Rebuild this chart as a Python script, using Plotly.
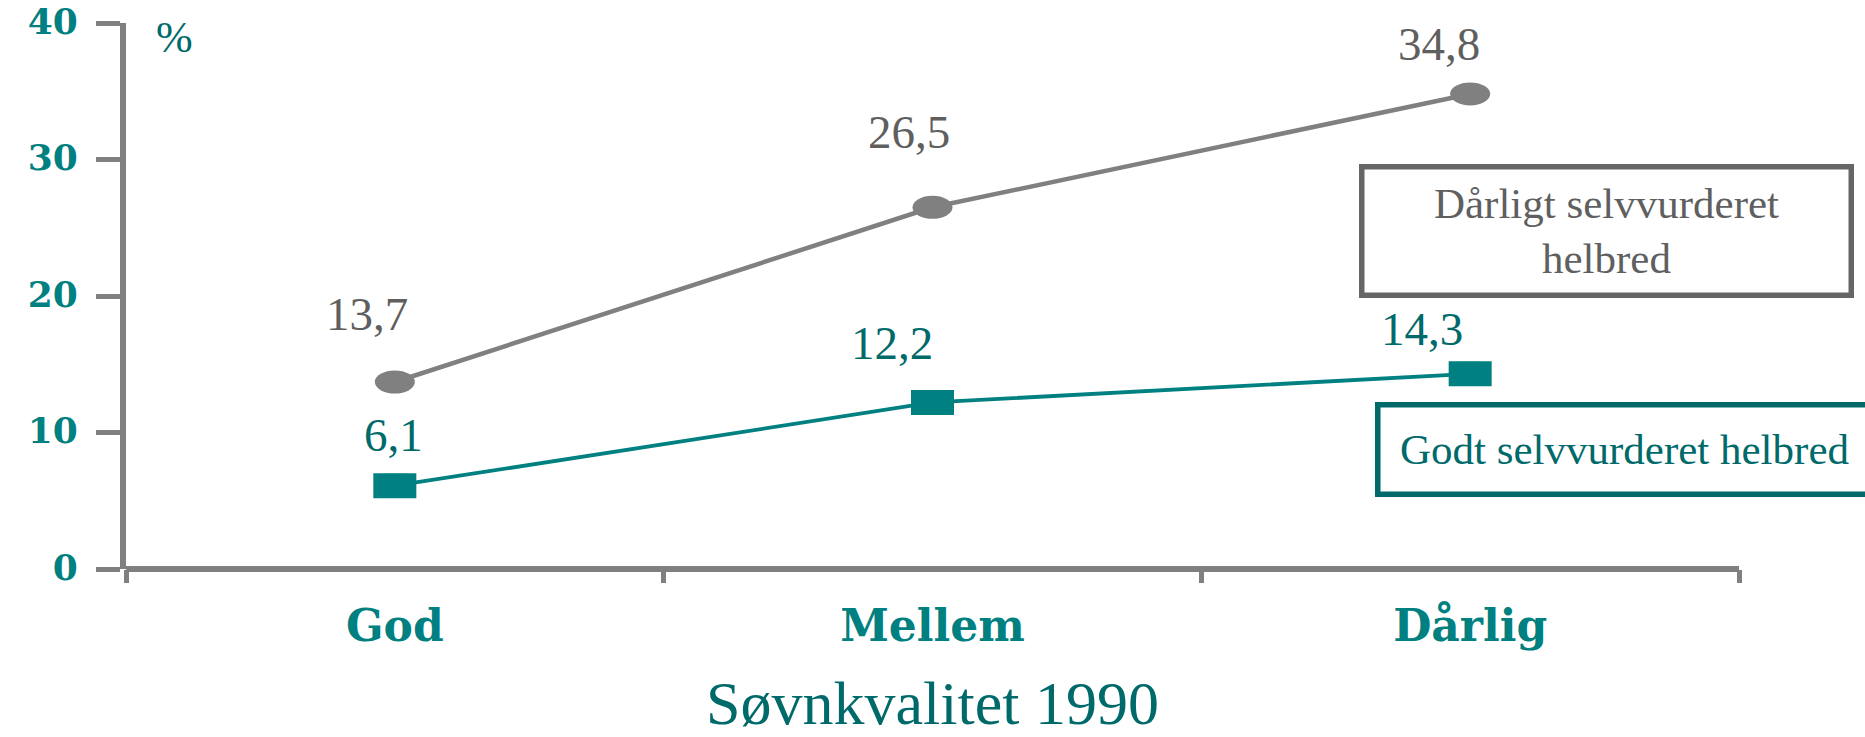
import plotly.graph_objects as go

categories = ["God", "Mellem", "Dårlig"]
poor_health = [13.7, 26.5, 34.8]
good_health = [6.1, 12.2, 14.3]
poor_labels = ["13,7", "26,5", "34,8"]
good_labels = ["6,1", "12,2", "14,3"]
y_ticks = [0, 10, 20, 30, 40]

GRAY = "#808080"
GRAY_TXT = "#5f5f5f"
TEAL = "#008080"
TEAL_DK = "#006a6a"
SERIF = "Liberation Serif, Times New Roman, serif"
WIDE = "DejaVu Serif, serif"

# label offsets in pixels (dx, dy) relative to each point
poor_off = [(-28, 68), (-24, 75), (-31, 50)]
good_off = [(-1, 51), (-41, 59), (-48, 45)]

fig = go.Figure()
fig.add_trace(go.Scatter(
    x=categories, y=poor_health, mode="lines+markers",
    line=dict(color=GRAY, width=4.5),
    marker=dict(symbol="circle", size=20, color=GRAY),
    name="Dårligt selvvurderet helbred", showlegend=False))
fig.add_trace(go.Scatter(
    x=categories, y=good_health, mode="lines+markers",
    line=dict(color=TEAL, width=3.8),
    marker=dict(symbol="square", size=24, color=TEAL),
    name="Godt selvvurderet helbred", showlegend=False))

shapes = []
for c, v in zip(categories, poor_health):
    shapes.append(dict(type="circle", xref="x", yref="y", xsizemode="pixel", ysizemode="pixel",
                       xanchor=c, yanchor=v, x0=-20, x1=20, y0=-11.5, y1=11.5,
                       fillcolor=GRAY, line=dict(width=0)))
for c, v in zip(categories, good_health):
    shapes.append(dict(type="rect", xref="x", yref="y", xsizemode="pixel", ysizemode="pixel",
                       xanchor=c, yanchor=v, x0=-21.5, x1=21.5, y0=-12.5, y1=12.5,
                       fillcolor=TEAL, line=dict(width=0)))

annotations = []
for c, v, t, (dx, dy) in zip(categories, poor_health, poor_labels, poor_off):
    annotations.append(dict(x=c, y=v, xref="x", yref="y", text=t, showarrow=False,
                            xshift=dx, yshift=dy, xanchor="center", yanchor="middle",
                            font=dict(family=SERIF, size=47, color=GRAY_TXT)))
for c, v, t, (dx, dy) in zip(categories, good_health, good_labels, good_off):
    annotations.append(dict(x=c, y=v, xref="x", yref="y", text=t, showarrow=False,
                            xshift=dx, yshift=dy, xanchor="center", yanchor="middle",
                            font=dict(family=SERIF, size=47, color=TEAL_DK)))

# unit label
annotations.append(dict(x=0, y=1, xref="x domain", yref="y domain", text="%", showarrow=False,
                        xshift=48, yshift=-14, xanchor="center", yanchor="middle",
                        font=dict(family=SERIF, size=44, color=TEAL_DK)))
# series boxes
annotations.append(dict(x=0.918, y=0.619, xref="paper", yref="paper",
                        text="Dårligt selvvurderet<br>helbred", showarrow=False,
                        xanchor="center", yanchor="middle", align="center",
                        width=480, height=119, borderpad=2, borderwidth=5.5,
                        bordercolor="#666666", bgcolor="white",
                        font=dict(family=SERIF, size=43, color=GRAY_TXT)))
annotations.append(dict(x=0.929, y=0.218, xref="paper", yref="paper",
                        text="Godt selvvurderet helbred", showarrow=False,
                        xanchor="center", yanchor="middle", align="center",
                        width=484, height=80, borderpad=2, borderwidth=5.5,
                        bordercolor=TEAL_DK, bgcolor="white",
                        font=dict(family=SERIF, size=43, color=TEAL_DK)))

fig.update_layout(
    width=1865, height=737,
    margin=dict(l=126, r=126, t=23, b=168),
    paper_bgcolor="white", plot_bgcolor="white",
    shapes=shapes, annotations=annotations,
    xaxis=dict(
        type="category", range=[-0.5, 2.5], tickson="boundaries", automargin=False,
        ticks="outside", ticklen=13, tickwidth=5, tickcolor=GRAY,
        showline=False, showgrid=False, zeroline=False,
        tickfont=dict(family=WIDE, size=44, color=TEAL, weight="bold"),
        ticklabelstandoff=27,
        title=dict(text="Søvnkvalitet 1990", standoff=40,
                   font=dict(family=SERIF, size=62, color=TEAL_DK)),
    ),
    yaxis=dict(
        range=[0, 40], tickvals=y_ticks, ticktext=[str(v) for v in y_ticks], automargin=False,
        ticks="outside", ticklen=24, tickwidth=5, tickcolor=GRAY,
        showline=True, linewidth=6, linecolor=GRAY,
        showgrid=False, zeroline=True, zerolinewidth=6, zerolinecolor=GRAY,
        tickfont=dict(family=WIDE, size=36, color=TEAL, weight="bold"),
        ticklabelstandoff=11, ticklabeloverflow="allow", ticklabelshift=-2,
    ),
)

# remove the default page margin so the figure fills the window exactly
fig.write_html("out.html", config={"displayModeBar": False},
               post_script="document.body.style.margin='0';")
